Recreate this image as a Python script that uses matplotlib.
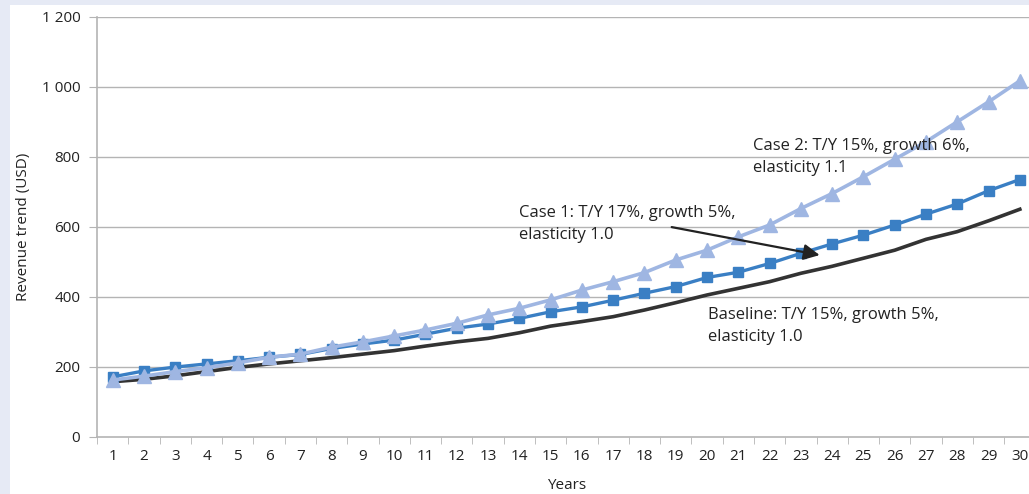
import matplotlib.pyplot as plt
from matplotlib.patches import Rectangle
from matplotlib.ticker import FuncFormatter

# Revenue trend per year for the three scenarios
years = list(range(1, 31))
baseline = [157, 164, 174, 186, 198, 208, 217, 226, 236, 246,
            259, 271, 281, 297, 316, 329, 343, 362, 383, 405,
            424, 443, 467, 487, 510, 533, 564, 586, 617, 650]
case1 = [171, 188, 199, 208, 217, 227, 235, 252, 265, 276,
         293, 310, 322, 338, 357, 371, 390, 410, 429, 455,
         470, 495, 524, 551, 576, 605, 636, 665, 703, 735]
case2 = [162, 173, 186, 197, 211, 227, 236, 256, 271, 288,
         305, 324, 348, 367, 391, 419, 443, 469, 505, 533,
         571, 605, 652, 695, 743, 793, 843, 900, 957, 1017]
yticks = [0, 200, 400, 600, 800, 1000, 1200]

plt.rcParams['font.family'] = ['Open Sans', 'DejaVu Sans']

fig = plt.figure(figsize=(10.29, 4.94), dpi=100)
fig.patch.set_facecolor('#e6eaf5')
# white panel behind the chart
panel = Rectangle((10 / 1029, 0), 1, (494 - 5) / 494, transform=fig.transFigure,
                  facecolor='white', edgecolor='none', zorder=-10)
fig.add_artist(panel)

ax = fig.add_axes([0.0943, 0.116, 0.912, 0.850])
ax.set_facecolor('white')

grid_col = '#b4b4b4'
for y in yticks[1:]:
    ax.axhline(y, color=grid_col, lw=1.0, zorder=1)

ax.plot(years, baseline, color='#333333', lw=2.6, zorder=3)
ax.plot(years, case1, color='#3a7fc4', lw=2.4, marker='s', markersize=7.5, zorder=4)
ax.plot(years, case2, color='#9fb6e2', lw=2.6, marker='^', markersize=10, zorder=5)

ax.set_xlim(0.5, 30.5)
ax.set_ylim(0, 1200)
ax.set_yticks(yticks)
ax.yaxis.set_major_formatter(FuncFormatter(lambda v, p: f'{int(v):,}'.replace(',', ' ')))
ax.set_xticks(years)
ax.set_xticks([y + 0.5 for y in range(0, 31)], minor=True)
ax.tick_params(axis='x', which='major', length=0, pad=9, labelsize=11, colors='#222222')
ax.tick_params(axis='x', which='minor', length=5, color=grid_col)
ax.tick_params(axis='y', length=6, color=grid_col, labelsize=11, labelcolor='#222222', pad=6)

for s in ['top', 'right']:
    ax.spines[s].set_visible(False)
ax.spines['left'].set_color(grid_col)
ax.spines['bottom'].set_color(grid_col)
ax.spines['left'].set_linewidth(1.2)
ax.spines['bottom'].set_linewidth(1.2)

ax.set_xlabel('Years', fontsize=11, color='#222222', labelpad=10)
ax.set_ylabel('Revenue trend (USD)', fontsize=11, color='#222222', labelpad=8)

txt = dict(fontsize=12, color='#222222', va='center', ha='left', linespacing=1.5, zorder=6)
ax.text(21.46, 800, 'Case 2: T/Y 15%, growth 6%,\nelasticity 1.1', **txt)
ax.text(13.98, 608, 'Case 1: T/Y 17%, growth 5%,\nelasticity 1.0', **txt)
ax.text(20.02, 316, 'Baseline: T/Y 15%, growth 5%,\nelasticity 1.0', **txt)
ax.annotate('', xy=(23.6, 519), xytext=(18.87, 599),
            arrowprops=dict(arrowstyle='-|>', color='#222222', lw=1.6,
                            mutation_scale=24, shrinkA=0, shrinkB=0), zorder=6)

fig.savefig('out.png', dpi=100, facecolor=fig.get_facecolor())
